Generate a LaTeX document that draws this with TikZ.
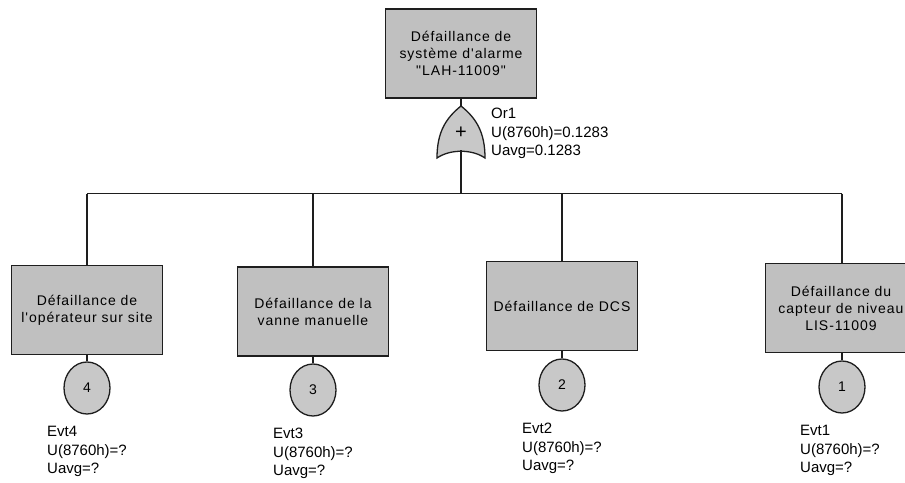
\documentclass[tikz,border=0pt]{standalone}
\usepackage{fontspec}
\usetikzlibrary{shapes.geometric}
\setmainfont{Liberation Sans}
\newfontfamily\boxfont[LetterSpace=7]{Liberation Sans}
\definecolor{boxgray}{RGB}{192,192,192}
\definecolor{evtgray}{RGB}{200,200,200}
\definecolor{linegray}{RGB}{30,30,30}
\begin{document}
\begin{tikzpicture}[x=1pt,y=-1pt,
  event/.style={draw=linegray,line width=1.5pt,fill=boxgray,minimum width=151pt,
    minimum height=89pt,inner sep=0pt,align=center,text=black,
    font=\boxfont\fontsize{14}{17}\selectfont},
  basic/.style={draw=linegray,line width=1.3pt,fill=evtgray,ellipse,
    minimum width=46pt,minimum height=52pt,inner sep=0pt,
    font=\fontsize{14}{16}\selectfont},
  info/.style={anchor=north west,inner sep=0pt,align=left,
    font=\fontsize{15}{18.5}\selectfont},
  link/.style={draw=linegray,line width=1.3pt}]
\clip (0,0) rectangle (905,482);
\fill[white] (0,0) rectangle (905,482);

% top event
\node[event] (top) at (461,53.5) {Défaillance de\\système d'alarme\\"LAH-11009"};

% OR gate
\coordinate (gtop) at (461,106);
\coordinate (gbot) at (461,150);
\filldraw[fill=evtgray,draw=linegray,line width=1.3pt]
  (gtop) .. controls (446,118) and (437,132) .. (437,158)
  .. controls (450,149) and (472,149) .. (485,158)
  .. controls (485,132) and (476,118) .. (gtop) -- cycle;
\node[font=\fontsize{20}{20}\selectfont,inner sep=0pt] (plus) at (461,133) {+};
\node[info] (glabel) at (491,108) {Or1\\U(8760h)=0.1283\\Uavg=0.1283};
\draw[link] (top.south) -- (gtop);

% bus
\coordinate (bus) at (461,193.5);
\coordinate (b4) at (87,193.5);
\coordinate (b3) at (313,193.5);
\coordinate (b2) at (562,193.5);
\coordinate (b1) at (842,193.5);
\draw[link] (gbot) -- (bus);
\draw[link] (b4) -- (b1);

% intermediate events
\node[event] (e4) at (87,310) {Défaillance de\\l'opérateur sur site};
\node[event] (e3) at (313,311.5) {Défaillance de la\\vanne manuelle};
\node[event] (e2) at (562,306) {Défaillance de DCS};
\node[event] (e1) at (841,308) {Défaillance du\\capteur de niveau\\LIS-11009};

\draw[link] (b4) -- (e4.north -| b4);
\draw[link] (b3) -- (e3.north -| b3);
\draw[link] (b2) -- (e2.north -| b2);
\draw[link] (b1) -- (e1.north -| b1);

% basic events
\node[basic] (c4) at (87,388) {4};
\node[basic] (c3) at (313,390) {3};
\node[basic] (c2) at (562,385) {2};
\node[basic] (c1) at (842,387) {1};

\draw[link] (e4.south -| c4) -- (c4.north);
\draw[link] (e3.south -| c3) -- (c3.north);
\draw[link] (e2.south -| c2) -- (c2.north);
\draw[link] (e1.south -| c1) -- (c1.north);

% event data
\node[info] (t4) at (47,426) {Evt4\\U(8760h)=?\\Uavg=?};
\node[info] (t3) at (273,428) {Evt3\\U(8760h)=?\\Uavg=?};
\node[info] (t2) at (522,423) {Evt2\\U(8760h)=?\\Uavg=?};
\node[info] (t1) at (800,425) {Evt1\\U(8760h)=?\\Uavg=?};
\end{tikzpicture}
\end{document}
